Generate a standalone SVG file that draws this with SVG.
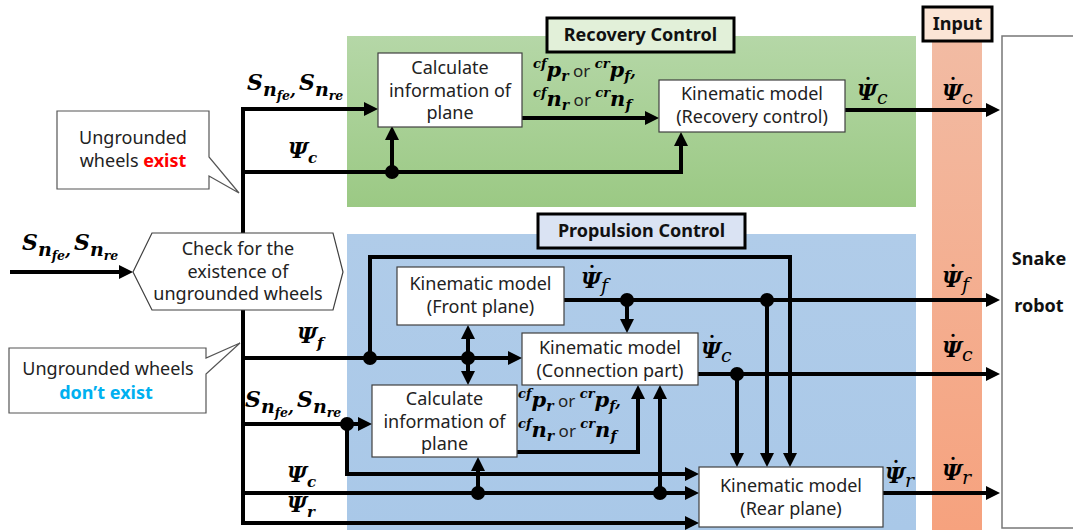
<svg xmlns="http://www.w3.org/2000/svg" width="1073" height="530" viewBox="0 0 1073 530">
<defs>
<linearGradient id="gGreen" x1="0" y1="0" x2="0" y2="1"><stop offset="0" stop-color="#b5d7a7"/><stop offset="1" stop-color="#9bc984"/></linearGradient>
<linearGradient id="gBlue" x1="0" y1="0" x2="0" y2="1"><stop offset="0" stop-color="#b0cce9"/><stop offset="1" stop-color="#a9c8e8"/></linearGradient>
<linearGradient id="gOrange" x1="0" y1="0" x2="0" y2="1"><stop offset="0" stop-color="#f2bba3"/><stop offset="1" stop-color="#f6a27e"/></linearGradient>
<marker id="ah" markerUnits="userSpaceOnUse" viewBox="0 0 14 14" markerWidth="14" markerHeight="14" refX="8" refY="7" orient="auto-start-reverse"><path d="M0,0 L14,7 L0,14 z" fill="#000"/></marker>
<style>
.node{fill:#fff;stroke:#404040;stroke-width:1.2}
.tag{stroke:#000;stroke-width:3}
.call{fill:#fff;stroke:#555;stroke-width:1.2}
.t{font-family:"Noto Sans","Liberation Sans",sans-serif;font-size:18px;fill:#222;text-anchor:middle}
.b{font-family:"Noto Sans","Liberation Sans",sans-serif;font-size:18px;font-weight:bold;fill:#111;text-anchor:middle}
.c{fill:none;stroke:#000;stroke-width:4}
.a{marker-end:url(#ah)}
.mi{font-family:"DejaVu Serif","Liberation Serif",serif;font-weight:bold;font-style:italic;fill:#000}
.ri{font-weight:normal;font-style:italic}
.s{font-family:"Noto Sans","Liberation Sans",sans-serif;font-weight:normal;font-style:normal;fill:#222}
.d{font-family:"DejaVu Serif",serif;font-weight:bold;font-size:22px;text-anchor:middle;fill:#000}
.dot{fill:#000}
</style>
</defs>

<g id="backgrounds">
<rect x="347" y="36" width="569" height="171" fill="url(#gGreen)"/>
<rect x="347" y="234" width="569" height="296" fill="url(#gBlue)"/>
<rect x="932" y="41" width="50" height="489" fill="url(#gOrange)"/>
</g>

<g id="label-recovery"><rect class="tag" x="547" y="18" width="187" height="34" fill="#e2f0d9"/><text class="b" x="640.5" y="41">Recovery Control</text></g>
<g id="label-propulsion"><rect class="tag" x="538" y="214" width="207" height="34" fill="#dae3f3"/><text class="b" x="641.5" y="237">Propulsion Control</text></g>
<g id="label-input"><rect class="tag" x="923" y="7" width="69" height="34" fill="#fbe5d6"/><text class="b" x="957.5" y="30">Input</text></g>

<g id="connectors">
<path class="c" d="M372,109 H243 V523 H693" marker-start="url(#ah)" marker-end="url(#ah)"/>
<path class="c a" d="M243,172 H681 V138"/>
<path class="c a" d="M392,172 V132"/>
<path class="c a" d="M522,118 H653"/>
<path class="c a" d="M845,110 H994"/>
<path class="c a" d="M10,272 H127"/>
<path class="c a" d="M243,358 H516"/>
<path class="c a" d="M370,358 V257 H790 V461"/>
<path class="c a" d="M468,358 V331"/>
<path class="c a" d="M468,358 V379"/>
<path class="c a" d="M564,300 H994"/>
<path class="c a" d="M627,300 V327"/>
<path class="c a" d="M767,300 V461"/>
<path class="c a" d="M698,374 H994"/>
<path class="c a" d="M737,374 V461"/>
<path class="c a" d="M243,424 H366"/>
<path class="c a" d="M347,424 V474 H693"/>
<path class="c a" d="M517,452 H638 V391"/>
<path class="c a" d="M243,493 H693"/>
<path class="c a" d="M478,493 V463"/>
<path class="c a" d="M660,493 V391"/>
<path class="c a" d="M883,493 H994"/>
<circle class="dot" cx="392" cy="172" r="7"/>
<circle class="dot" cx="370" cy="358" r="7"/>
<circle class="dot" cx="468" cy="358" r="7"/>
<circle class="dot" cx="627" cy="300" r="7"/>
<circle class="dot" cx="767" cy="300" r="7"/>
<circle class="dot" cx="737" cy="374" r="7"/>
<circle class="dot" cx="347" cy="424" r="7"/>
<circle class="dot" cx="478" cy="493" r="7"/>
<circle class="dot" cx="660" cy="493" r="7"/>
</g>

<g id="check">
<polygon class="node" points="133,272 152,233 333,233 343,272 333,310 152,310"/>
<text class="t" x="238" y="255">Check for the</text>
<text class="t" x="238" y="278">existence of</text>
<text class="t" x="238" y="300">ungrounded wheels</text>
</g>

<g id="callout-exist">
<path class="call" d="M57,111 H209 V157 L239,193 L209,176 V189 H57 Z"/>
<text class="t" x="133" y="144">Ungrounded</text>
<text class="t" x="133" y="167">wheels <tspan style="font-weight:bold;fill:#ff0000">exist</tspan></text>
</g>

<g id="callout-notexist">
<path class="call" d="M9,348 H206 V358 L240,343 L206,374 V413 H9 Z"/>
<text class="t" x="108" y="375">Ungrounded wheels</text>
<text class="t" x="106" y="399" style="font-weight:bold;fill:#00b0f0">don’t exist</text>
</g>

<g id="calc-recovery">
<rect class="node" x="378" y="53" width="144" height="74"/>
<text class="t" x="450" y="74">Calculate</text>
<text class="t" x="450" y="97">information of</text>
<text class="t" x="450" y="119">plane</text>
</g>

<g id="kin-recovery">
<rect class="node" x="659" y="80" width="186" height="52"/>
<text class="t" x="752" y="100">Kinematic model</text>
<text class="t" x="752" y="123">(Recovery control)</text>
</g>

<g id="kin-front">
<rect class="node" x="397" y="267" width="167" height="58"/>
<text class="t" x="480.5" y="290">Kinematic model</text>
<text class="t" x="480.5" y="313">(Front plane)</text>
</g>

<g id="kin-connection">
<rect class="node" x="522" y="333" width="176" height="52"/>
<text class="t" x="610" y="354">Kinematic model</text>
<text class="t" x="610" y="377">(Connection part)</text>
</g>

<g id="calc-propulsion">
<rect class="node" x="372" y="385" width="145" height="72"/>
<text class="t" x="444.5" y="405">Calculate</text>
<text class="t" x="444.5" y="428">information of</text>
<text class="t" x="444.5" y="450">plane</text>
</g>

<g id="kin-rear">
<rect class="node" x="699" y="467" width="184" height="60"/>
<text class="t" x="791" y="492">Kinematic model</text>
<text class="t" x="791" y="515">(Rear plane)</text>
</g>

<g id="snake-robot">
<rect x="1002" y="36" width="90" height="492" fill="#fff" stroke="#777" stroke-width="1.5"/>
<text class="b" x="1039" y="265" font-size="19">Snake</text>
<text class="b" x="1039" y="312" font-size="19">robot</text>
</g>

<g id="labels">
<text class="mi" x="247" y="90" font-size="22">S<tspan font-size="19" dy="6">n</tspan><tspan font-size="12.5" dy="4">fe</tspan><tspan font-size="17" dy="-4">,</tspan><tspan font-size="22" dy="-6" dx="3">S</tspan><tspan font-size="19" dy="6">n</tspan><tspan font-size="12.5" dy="4">re</tspan></text>
<text class="mi" x="22" y="250" font-size="22">S<tspan font-size="19" dy="6">n</tspan><tspan font-size="12.5" dy="4">fe</tspan><tspan font-size="17" dy="-4">,</tspan><tspan font-size="22" dy="-6" dx="3">S</tspan><tspan font-size="19" dy="6">n</tspan><tspan font-size="12.5" dy="4">re</tspan></text>
<text class="mi" x="245" y="407" font-size="22">S<tspan font-size="19" dy="6">n</tspan><tspan font-size="12.5" dy="4">fe</tspan><tspan font-size="17" dy="-4">,</tspan><tspan font-size="22" dy="-6" dx="3">S</tspan><tspan font-size="19" dy="6">n</tspan><tspan font-size="12.5" dy="4">re</tspan></text>

<text class="mi" x="288" y="158" font-size="22">Ψ<tspan font-size="15" dy="5">c</tspan></text>
<text class="mi" x="297" y="343" font-size="22">Ψ<tspan font-size="15" dy="5">f</tspan></text>
<text class="mi" x="287" y="482" font-size="22">Ψ<tspan font-size="15" dy="5">c</tspan></text>
<text class="mi" x="287" y="512" font-size="22">Ψ<tspan font-size="15" dy="5">r</tspan></text>

<g id="psidot-c1"><text class="mi" x="857" y="100" font-size="22">Ψ<tspan class="ri" font-size="19" dy="4">c</tspan></text><text class="d" x="868" y="95">˙</text></g>
<g id="psidot-c2"><text class="mi" x="942" y="100" font-size="22">Ψ<tspan class="ri" font-size="19" dy="4">c</tspan></text><text class="d" x="953" y="95">˙</text></g>
<g id="psidot-f1"><text class="mi" x="581" y="288" font-size="22">Ψ<tspan class="ri" font-size="19" dy="4">f</tspan></text><text class="d" x="592" y="283">˙</text></g>
<g id="psidot-f2"><text class="mi" x="942" y="287" font-size="22">Ψ<tspan class="ri" font-size="19" dy="4">f</tspan></text><text class="d" x="953" y="282">˙</text></g>
<g id="psidot-c3"><text class="mi" x="701" y="358" font-size="22">Ψ<tspan class="ri" font-size="19" dy="4">c</tspan></text><text class="d" x="712" y="353">˙</text></g>
<g id="psidot-c4"><text class="mi" x="942" y="357" font-size="22">Ψ<tspan class="ri" font-size="19" dy="4">c</tspan></text><text class="d" x="953" y="352">˙</text></g>
<g id="psidot-r1"><text class="mi" x="885" y="483" font-size="22">Ψ<tspan class="ri" font-size="19" dy="4">r</tspan></text><text class="d" x="896" y="478">˙</text></g>
<g id="psidot-r2"><text class="mi" x="942" y="480" font-size="22">Ψ<tspan class="ri" font-size="19" dy="4">r</tspan></text><text class="d" x="953" y="475">˙</text></g>

<text class="mi" x="533" y="77"><tspan font-size="13" dy="-9">cf</tspan><tspan font-size="21" dy="9">p</tspan><tspan font-size="14" dy="4">r</tspan><tspan class="s" font-size="17" dy="-4"> or </tspan><tspan font-size="13" dy="-9">cr</tspan><tspan font-size="21" dy="9">p</tspan><tspan font-size="14" dy="4">f</tspan><tspan font-size="16" dy="-4">,</tspan></text>
<text class="mi" x="533" y="106"><tspan font-size="13" dy="-9">cf</tspan><tspan font-size="21" dy="9">n</tspan><tspan font-size="14" dy="4">r</tspan><tspan class="s" font-size="17" dy="-4"> or </tspan><tspan font-size="13" dy="-9">cr</tspan><tspan font-size="21" dy="9">n</tspan><tspan font-size="14" dy="4">f</tspan></text>
<text class="mi" x="518" y="407"><tspan font-size="13" dy="-9">cf</tspan><tspan font-size="21" dy="9">p</tspan><tspan font-size="14" dy="4">r</tspan><tspan class="s" font-size="17" dy="-4"> or </tspan><tspan font-size="13" dy="-9">cr</tspan><tspan font-size="21" dy="9">p</tspan><tspan font-size="14" dy="4">f</tspan><tspan font-size="16" dy="-4">,</tspan></text>
<text class="mi" x="518" y="437"><tspan font-size="13" dy="-9">cf</tspan><tspan font-size="21" dy="9">n</tspan><tspan font-size="14" dy="4">r</tspan><tspan class="s" font-size="17" dy="-4"> or </tspan><tspan font-size="13" dy="-9">cr</tspan><tspan font-size="21" dy="9">n</tspan><tspan font-size="14" dy="4">f</tspan></text>
</g>
</svg>
